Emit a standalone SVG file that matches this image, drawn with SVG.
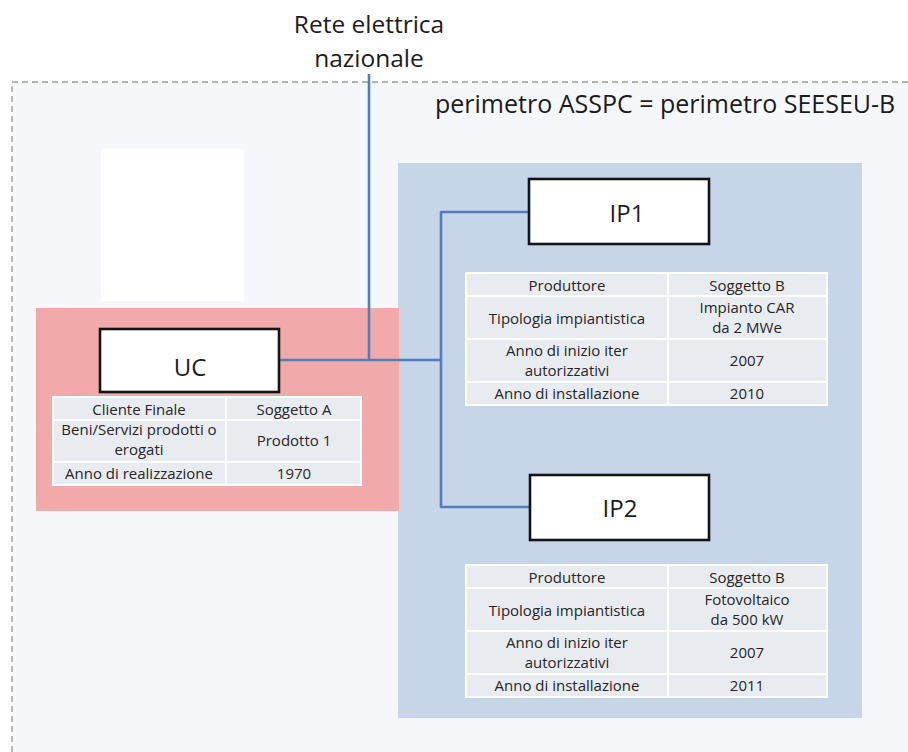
<svg xmlns="http://www.w3.org/2000/svg" width="908" height="752" viewBox="0 0 908 752">
  <style>
    .label { font-family: "Open Sans", "Liberation Sans", sans-serif; fill: #1c1c1c; }
    .title { font-size: 24.5px; text-anchor: middle; }
    .perim { font-size: 25px; }
    .node-box { fill: #ffffff; stroke: #141414; stroke-width: 2.6; }
    .node-text { font-size: 24px; text-anchor: middle; }
    .cell-bg { fill: #e8ecf1; }
    .grid { stroke: #ffffff; stroke-width: 2; fill: none; }
    .cell { font-family: "Open Sans", "Liberation Sans", sans-serif; font-size: 15px; fill: #262626; text-anchor: middle; }
    .wire { stroke: #4f7fbd; stroke-width: 2.6; fill: none; stroke-linejoin: round; }
  </style>

  <!-- page background -->
  <rect x="0" y="0" width="908" height="752" fill="#ffffff"/>

  <!-- system perimeter (dashed, running off the right and bottom edges) -->
  <g id="perimeter">
    <rect x="12" y="82" width="1000" height="1000" fill="#f5f7fa" stroke="#9a9a9a" stroke-width="1.3" stroke-dasharray="6 4"/>
    <rect x="101" y="149" width="143" height="152" fill="#ffffff"/>
    <text class="label perim" x="435" y="113">perimetro ASSPC = perimetro SEESEU-B</text>
  </g>

  <!-- producer area -->
  <g id="ip-area">
    <rect x="398" y="163" width="464" height="555" fill="#c6d5e8"/>
  </g>

  <!-- consumer area -->
  <g id="uc-area">
    <rect x="36" y="308" width="363" height="203" fill="#f2a9a9"/>
  </g>

  <!-- grid connection label -->
  <g id="grid-label">
    <text class="label title" x="369" y="33">Rete elettrica</text>
    <text class="label title" x="369" y="67">nazionale</text>
  </g>

  <!-- connectors -->
  <g id="connectors">
    <path class="wire" d="M369 74 V360"/>
    <path class="wire" d="M279 360 H441"/>
    <path class="wire" d="M529 212 H441 V507 H530"/>
  </g>

  <!-- UC node -->
  <g id="node-uc">
    <rect class="node-box" x="100" y="329" width="179" height="63"/>
    <text class="label node-text" x="190" y="376">UC</text>
    <g id="table-uc">
      <rect class="cell-bg" x="53" y="397" width="308" height="88"/>
      <path class="grid" d="M53 397 H361 V485 H53 Z M53 420 H361 M53 462 H361 M226 397 V485"/>
      <text class="cell" x="139" y="415">Cliente Finale</text>
      <text class="cell" x="294" y="415">Soggetto A</text>
      <text class="cell" x="139" y="435">Beni/Servizi prodotti o</text>
      <text class="cell" x="139" y="455">erogati</text>
      <text class="cell" x="294" y="446">Prodotto 1</text>
      <text class="cell" x="139" y="479">Anno di realizzazione</text>
      <text class="cell" x="294" y="479">1970</text>
    </g>
  </g>

  <!-- IP1 node -->
  <g id="node-ip1">
    <rect class="node-box" x="529" y="179" width="180" height="65"/>
    <text class="label node-text" x="627" y="222">IP1</text>
    <g id="table-ip1">
      <rect class="cell-bg" x="466" y="273" width="361" height="132"/>
      <path class="grid" d="M466 273 H827 V405 H466 Z M466 296 H827 M466 339 H827 M466 382 H827 M668 273 V405"/>
      <text class="cell" x="567" y="291">Produttore</text>
      <text class="cell" x="747" y="291">Soggetto B</text>
      <text class="cell" x="567" y="324">Tipologia impiantistica</text>
      <text class="cell" x="747" y="313">Impianto CAR</text>
      <text class="cell" x="747" y="333">da 2 MWe</text>
      <text class="cell" x="567" y="356">Anno di inizio iter</text>
      <text class="cell" x="567" y="376">autorizzativi</text>
      <text class="cell" x="747" y="366">2007</text>
      <text class="cell" x="567" y="399">Anno di installazione</text>
      <text class="cell" x="747" y="399">2010</text>
    </g>
  </g>

  <!-- IP2 node -->
  <g id="node-ip2">
    <rect class="node-box" x="530" y="475" width="179" height="65"/>
    <text class="label node-text" x="620" y="517">IP2</text>
    <g id="table-ip2">
      <rect class="cell-bg" x="466" y="565" width="361" height="132"/>
      <path class="grid" d="M466 565 H827 V697 H466 Z M466 588 H827 M466 631 H827 M466 674 H827 M668 565 V697"/>
      <text class="cell" x="567" y="583">Produttore</text>
      <text class="cell" x="747" y="583">Soggetto B</text>
      <text class="cell" x="567" y="616">Tipologia impiantistica</text>
      <text class="cell" x="747" y="605">Fotovoltaico</text>
      <text class="cell" x="747" y="625">da 500 kW</text>
      <text class="cell" x="567" y="648">Anno di inizio iter</text>
      <text class="cell" x="567" y="668">autorizzativi</text>
      <text class="cell" x="747" y="658">2007</text>
      <text class="cell" x="567" y="691">Anno di installazione</text>
      <text class="cell" x="747" y="691">2011</text>
    </g>
  </g>
</svg>
